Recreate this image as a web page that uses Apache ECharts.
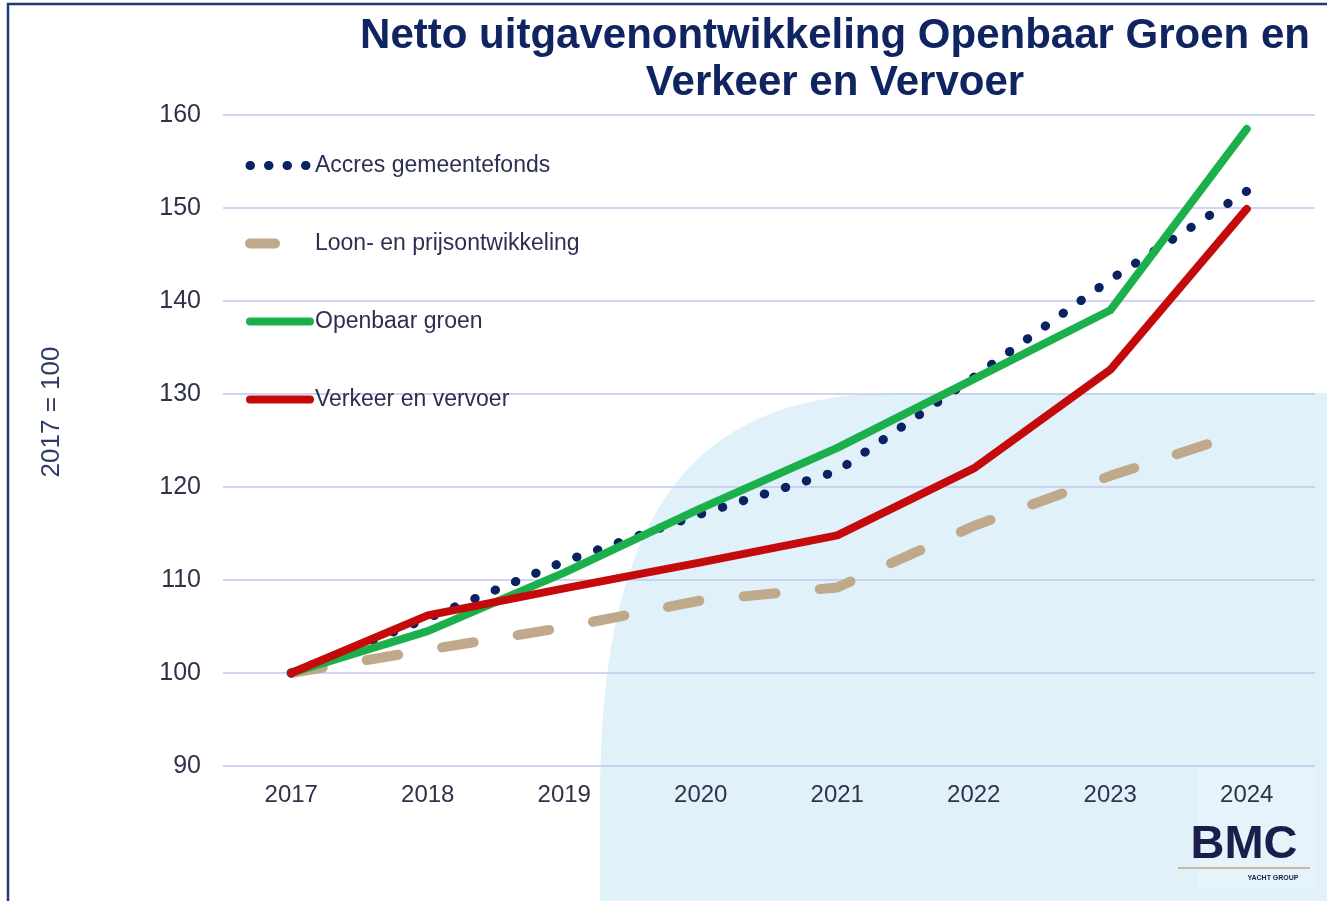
<!DOCTYPE html>
<html>
<head>
<meta charset="utf-8">
<script src="https://cdn.jsdelivr.net/npm/echarts@6/dist/echarts.min.js"></script>
<style>
  html, body { margin: 0; padding: 0; background: #fff; }
  #chart { width: 1327px; height: 901px; }
</style>
</head>
<body>
<div id="chart"></div>
<script>
// jaren op de x-as
const years = ['2017', '2018', '2019', '2020', '2021', '2022', '2023', '2024']
// index, 2017 = 100
const accres = [100, 105.9, 112.0, 117.1, 121.7, 131.8, 142.3, 151.8]
const loonPrijs = [100, 102.5, 104.9, 107.8, 109.2, 115.8, 121.2, 126.0]
const openbaarGroen = [100, 104.5, 110.8, 117.7, 124.2, 131.6, 139.0, 158.5]
const verkeerVervoer = [100, 106.2, 109.1, 111.9, 114.8, 122.0, 132.6, 149.9]

const seriesNames = ['Accres gemeentefonds', 'Loon- en prijsontwikkeling', 'Openbaar groen', 'Verkeer en vervoer']
const titleText = 'Netto uitgavenontwikkeling Openbaar Groen en\nVerkeer en Vervoer'

const font = 'Liberation Sans'

// contour van de lichtblauwe achtergrondvorm (decoratie, geen data)
function bgShape () {
  const p0 = [600, 800], p1 = [600, 500], p2 = [700, 393], p3 = [900, 393]
  const pts = [[600, 910]]
  for (let i = 0; i <= 40; i++) {
    const t = i / 40, u = 1 - t
    pts.push([
      u * u * u * p0[0] + 3 * u * u * t * p1[0] + 3 * u * t * t * p2[0] + t * t * t * p3[0],
      u * u * u * p0[1] + 3 * u * u * t * p1[1] + 3 * u * t * t * p2[1] + t * t * t * p3[1]
    ])
  }
  pts.push([1340, 393], [1340, 910])
  return pts
}

const myChart = echarts.init(document.getElementById('chart'))

let option = {
  animation: false,
  backgroundColor: '#ffffff',
  graphic: [
    {
      type: 'polygon',
      z: -10,
      silent: true,
      shape: { points: bgShape() },
      style: { fill: '#e0f1fa' }
    },
    // lichter vlak achter het logo
    {
      type: 'rect',
      z: -9,
      silent: true,
      shape: { x: 1198, y: 768, width: 118, height: 120 },
      style: { fill: '#e5f3fb' }
    },
    // kader
    {
      type: 'rect',
      z: 100,
      silent: true,
      shape: { x: 8, y: 4, width: 1340, height: 930 },
      style: { fill: 'none', stroke: '#1d3c78', lineWidth: 2.5 }
    },
    {
      type: 'text',
      x: 835,
      y: 13,
      style: {
        text: titleText,
        align: 'center',
        verticalAlign: 'top',
        fontFamily: font,
        fontWeight: 'bold',
        fontSize: 42,
        lineHeight: 47,
        fill: '#0f2461'
      }
    },
    {
      type: 'text',
      x: 52,
      y: 412,
      rotation: Math.PI / 2,
      style: {
        text: '2017 = 100',
        align: 'center',
        verticalAlign: 'middle',
        fontFamily: font,
        fontSize: 26,
        fill: '#2f3a66'
      }
    },
    // logo
    {
      type: 'text',
      x: 1244,
      y: 845,
      style: {
        text: 'BMC',
        align: 'center',
        verticalAlign: 'middle',
        fontFamily: font,
        fontWeight: 'bold',
        fontSize: 47,
        fill: '#1c1e4a'
      }
    },
    {
      type: 'line',
      shape: { x1: 1178, y1: 868, x2: 1310, y2: 868 },
      style: { stroke: '#cbb99b', lineWidth: 2 }
    },
    {
      type: 'text',
      x: 1273,
      y: 878,
      style: {
        text: 'YACHT GROUP',
        align: 'center',
        verticalAlign: 'middle',
        fontFamily: font,
        fontWeight: 'bold',
        fontSize: 7,
        fill: '#1c1e4a'
      }
    }
  ],
  legend: {
    orient: 'vertical',
    left: 240,
    top: 149,
    itemWidth: 60,
    itemHeight: 14,
    itemGap: 55,
    itemStyle: { opacity: 0 },
    lineStyle: { width: 'inherit', cap: 'round' },
    textStyle: {
      fontFamily: font,
      fontSize: 23,
      color: '#2d2f52'
    },
    data: [
      { name: seriesNames[0], lineStyle: { type: [0.5, 18] } },
      { name: seriesNames[1], lineStyle: { type: [25, 200] } },
      { name: seriesNames[2] },
      { name: seriesNames[3] }
    ]
  },
  grid: {
    left: 223,
    right: 12,
    top: 115,
    bottom: 135,
    containLabel: false
  },
  xAxis: {
    type: 'category',
    data: years,
    boundaryGap: true,
    axisLine: { show: false },
    axisTick: { show: false },
    axisLabel: {
      margin: 17,
      fontFamily: font,
      fontSize: 24,
      color: '#30324a'
    }
  },
  yAxis: {
    type: 'value',
    min: 90,
    max: 160,
    interval: 10,
    axisLine: { show: false },
    axisTick: { show: false },
    axisLabel: {
      margin: 22,
      fontFamily: font,
      fontSize: 25,
      color: '#30324a'
    },
    splitLine: {
      lineStyle: { color: '#c3c7ee', width: 1.5 }
    }
  },
  series: [
    {
      name: seriesNames[0],
      type: 'line',
      z: 3,
      symbol: 'none',
      data: accres,
      itemStyle: { color: '#0b2262' },
      lineStyle: { color: '#0b2262', width: 9, type: [0.5, 21.5], cap: 'round' }
    },
    {
      name: seriesNames[1],
      type: 'line',
      z: 2,
      symbol: 'none',
      data: loonPrijs,
      itemStyle: { color: '#bfa98a' },
      lineStyle: { color: '#bfa98a', width: 10, type: [32, 44.5], cap: 'round' }
    },
    {
      name: seriesNames[2],
      type: 'line',
      z: 4,
      symbol: 'none',
      data: openbaarGroen,
      itemStyle: { color: '#1bb04b' },
      lineStyle: { color: '#1bb04b', width: 8, cap: 'round', join: 'round' }
    },
    {
      name: seriesNames[3],
      type: 'line',
      z: 5,
      symbol: 'none',
      data: verkeerVervoer,
      itemStyle: { color: '#c40a0a' },
      lineStyle: { color: '#c40a0a', width: 8, cap: 'round', join: 'round' }
    }
  ]
}

myChart.setOption(option, true)
</script>
</body>
</html>
